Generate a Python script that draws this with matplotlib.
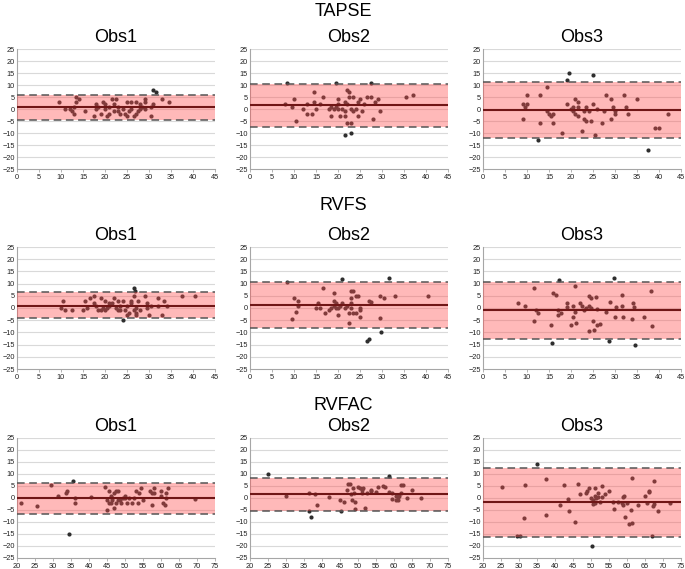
import numpy as np
import matplotlib
matplotlib.use('Agg')
import matplotlib.pyplot as plt

plt.rcParams['font.family'] = ['Liberation Sans', 'DejaVu Sans']

# 行标题 / 列标题
ROW_TITLES = ['TAPSE', 'RVFS', 'RVFAC']
COL_TITLES = ['Obs1', 'Obs2', 'Obs3']
ROW_XLIMS = [(0, 45), (0, 45), (20, 75)]
Y_TICKS = [-25, -20, -15, -10, -5, 0, 5, 10, 15, 20, 25]

# 均值 / 上限 / 下限 (行 x 列)
MEAN_DIFF = [[0.8, 1.5, -0.5], [1.0, 1.2, -0.8], [0.0, 1.5, -1.8]]
UPPER_LOA = [[6.0, 10.3, 11.3], [6.5, 10.8, 10.8], [6.3, 8.3, 12.6]]
LOWER_LOA = [[-4.5, -7.3, -12.0], [-4.3, -8.3, -12.8], [-6.5, -5.3, -16.2]]

# TAPSE
tapse_obs1_x = [9.5, 11, 12, 12.5, 13, 13, 13.5, 13.5, 14, 15.5, 17.5, 18, 18, 18.5, 19, 19.5, 20, 20,
                20.5, 21, 21, 21.5, 22, 22, 22.5, 23, 23, 23.5, 24, 24.5, 25, 25, 25.5, 26, 26, 26.5,
                27, 27, 27.5, 28, 28, 28.5, 29, 29, 29, 30.5, 30.5, 31, 31, 31.5, 33, 34.5]
tapse_obs1_y = [3, 0, 0, -1, -2, 1, 3, 5, 4, -1, -3, 0, 2, 1, -2, 3, 2, 0,
                -3, -2, 1, 4, -1, 2, 4, -1, 1, -2, 0, -2, -3, 3, -1, 3, 0, -3,
                3, -2, -1, 0, 2, 1, 3, 4, 0, -3, 1, 2, 8, 7, 4, 3]
tapse_obs2_x = [8, 8.5, 9.5, 10, 10.5, 12, 13, 13, 14, 14.5, 14.5, 15, 16, 16.5, 18, 18.5, 18.5, 19,
                19.5, 19.5, 20, 20, 20, 20.5, 21, 21.5, 21.5, 21.5, 21.5, 22, 22, 22, 22.5, 22.5, 23,
                23, 23, 23.5, 23.5, 24, 24.5, 24.5, 25, 25.5, 26, 26.5, 27.5, 27.5, 28, 28.5, 29,
                29.5, 35.5, 37]
tapse_obs2_y = [2, 11, 1, 4, -5, 0, 2, -2, -2, 3, 7, 0, 2, 5, 0, 1, -3, 0,
                1, 11, 4, 2, 0, -3, 0, -1, -3, 3, -11, 8, 2, -6, 7, 5, 0,
                -6, -10, -1, 5, 0, -3, 3, 4, -1, 2, 5, 5, 11, -4, 3, 4,
                -1, 5, 6]
tapse_obs3_x = [9, 9, 9.5, 10, 10, 12.5, 13, 13, 14.5, 14.5, 15, 15.5, 16, 16, 18, 19, 19.5, 19,
                20, 20.5, 20.5, 21, 21, 21.5, 21.5, 21.5, 22.5, 23, 23, 23.5, 23.5, 24, 24.5, 25,
                25, 25.5, 26, 27, 27.5, 28, 29, 29, 29.5, 30, 30, 32, 32.5, 33, 35, 37.5, 39, 40, 42]
tapse_obs3_y = [-4, 2, 1, 2, 6, -13, 6, -6, 9, -1, -2, -3, -2, -6, -10, 12, 15, 2,
                0, 1, -1, 4, -2, 3, 1, -3, -9, -1, -4, 1, -5, -1, -5, 2,
                14, -11, 0, -6, -1, 6, 4, -4, 1, -1, -2, 6, 1, -2, 4, -17, -8, -8, -2]

# RVFS
rvfs_obs1_x = [10, 10.5, 11, 12.5, 15, 15.5, 16, 16.5, 17.5, 17.5, 18, 18.5, 19, 19, 19.5, 20, 20,
               20.5, 21, 21, 21.5, 22, 22.5, 23, 23, 23.5, 23.5, 24, 24, 24.5, 25, 25, 25.5, 26, 26,
               26.5, 26.5, 26.5, 26.8, 27, 27, 27, 27.5, 28, 29, 29.5, 29.5, 30, 30.5, 32, 32, 33,
               33.5, 34, 37.5, 40.5]
rvfs_obs1_y = [0, 3, -1, -1, -1, 3, 0, 4, 5, 2, 1, -1, -1, 4, 0, 3, -1,
               0, 2, 1, 2, 4, 0, -1, 3, -1, 1, 3, -5, -1, -3, 1, -2, 3, 2,
               -1, 5, 8, 7, -2, 0, -3, 3, -1, 5, 2, 0, -3, 1, 4, 1, -3,
               3, 1, 5, 5]
rvfs_obs2_x = [8.5, 9.5, 10, 10.5, 11, 11, 15, 15.5, 16, 16.5, 17, 18, 18.5, 19, 19, 19, 19.5, 19.5,
               20, 20, 20.5, 21, 21, 21.5, 22, 22.5, 22.5, 23, 23, 23, 23, 23.5, 23.5, 24, 24, 24.5,
               25, 25, 25, 26.5, 27, 27, 27.5, 29.5, 29.5, 29.8, 30.5, 31.5, 33, 40.5]
rvfs_obs2_y = [10.5, -4.5, 4, -1.5, 1, 3, 0, 2, 0, 8, -2, -1, 0, 6, 3, 1, 0, 2,
               -3, 0, 1, 2, 12, 0, 1, -6, -2, 2, 4, 0, 7, 7, -2, 5, -2, 5,
               -1, -3.5, 0, -13.5, -12.5, 3, 2.5, 5, -4, -10, 4, 12.5, 5, 5]
rvfs_obs3_x = [8, 9.5, 11.5, 11.5, 12, 12.5, 15.5, 15.7, 16, 16.5, 17, 17, 17.2, 17.8, 19, 19.2, 20,
               20.5, 20.5, 21, 21, 21.2, 22, 22.5, 23, 23.5, 24, 24, 24.2, 24.5, 24.5, 25, 25.3,
               25.6, 25.8, 26, 26.5, 28, 28.7, 28.8, 29.8, 30, 30.2, 31.5, 31.7, 31.8, 33.8, 34,
               34.3, 34.5, 36.5, 38.2, 38.5]
rvfs_obs3_y = [2, 1, 8, -5.5, -1, -2, -7, -14.5, 6, 5.5, -3, -1, 11.5, -2, 0.5, 2, -7,
               1, -3.5, 9, -1.5, -6, 2, 1, -1, 0, 1, -9.5, 5, 4, 0, -5.5, -9,
               4.5, -7, -0.5, -6.5, -1.5, -13.5, 2.5, 12.5, -3.5, 0.5, 5.5, 1, -3.5, -4.5, 2,
               0.5, -15, -3.5, 7, -7.5]

# RVFAC
rvfac_obs1_x = [21, 25.5, 29.5, 31.5, 33.5, 34, 34.5, 35.5, 36, 36, 40.5, 44.5, 45, 45, 45.5, 45.5,
                46, 46, 46.5, 46.5, 47, 47, 47.5, 47.5, 48, 48, 48.5, 49, 49.5, 50, 50, 50.5, 51,
                52, 52.5, 53, 53.5, 54, 54.5, 55, 57, 57.5, 57.5, 58, 58, 60, 60, 60.5, 61, 61.5,
                61.5, 62, 69.5]
rvfac_obs1_y = [-2, -3.5, 5.5, 1, 2, 3, -15, 7, 0, -2, 0.5, 4.5, -5, -1, -2, 3,
                1, -2, -1, 0, -4, 2, -2, 3, -1, 3, -1, -2, 0, 0, 1, -2, 0,
                -2, 0, 3, -2, 2, 4, -1, 3, 2, -3, 4, 2, 1, 3, -2, -3, 2,
                0, 4, -0.5]
rvfac_obs2_x = [25, 30, 36.5, 36.5, 37, 38, 38.5, 42, 45, 45.3, 46, 47, 47.2, 47.8, 48, 48.3, 48.5,
                48.8, 49.3, 49.3, 50, 50.5, 51, 51, 51.5, 52, 52.5, 53.5, 53.5, 55, 55.5, 57, 57.5,
                58.5, 58.5, 59.5, 59.5, 60.5, 60.5, 61, 61, 61.5, 62, 62, 62.5, 63.5, 65, 67.5]
rvfac_obs2_y = [10, 1, -5.5, 2, -8, 1.5, -3, 0.5, -1, -5.5, -1.5, 3.5, 6, 6, 1.5, -1, 4,
                2, -4.5, -1.5, 4.5, 4, 2, 3.5, 4, -4, 2, 3.5, 3, 2.5, 4.5, 5, 4.5,
                2.5, 9, 2, -0.5, 1, -1, -1, 0.5, 1, 5.5, 2, 5.5, 0, 3.5, 0]
rvfac_obs3_x = [25.3, 29.5, 30.3, 31.5, 31.8, 35, 37.5, 37.5, 41.5, 42.5, 43.5, 44, 45.5, 46.5, 47,
                48.5, 49, 49.5, 50, 50.2, 50.5, 50.5, 51, 51, 51, 51.5, 52, 52, 52.5, 53, 53, 54,
                55, 56, 56.5, 57.5, 58.5, 58.8, 59, 59.3, 59.5, 60, 60.5, 61, 61.5, 61.5, 63, 65,
                65.5, 66, 66, 67, 67.2, 67.5, 67.5, 68.5, 72]
rvfac_obs3_y = [4.5, -16, -16, -8.5, 5.5, 14, 8, -7, -3, 5.5, -0.5, -5.5, -10, 6, 1.5,
                2, 3, 4, 0, -20, -1, -2.5, 1, -2, 4, 0, 2, 0.5, -1.5, 0.5, 5, 1.5,
                3, -1.5, -4.5, -1.5, -2, 0.5, -3, 1, -8, -2, -11, -5, -10.5, 8.5, -3, 1,
                -2, 3, 2.5, -16, -3.5, 7, -2.5, -5.5, -2]

PANELS = [
    [(tapse_obs1_x, tapse_obs1_y), (tapse_obs2_x, tapse_obs2_y), (tapse_obs3_x, tapse_obs3_y)],
    [(rvfs_obs1_x, rvfs_obs1_y), (rvfs_obs2_x, rvfs_obs2_y), (rvfs_obs3_x, rvfs_obs3_y)],
    [(rvfac_obs1_x, rvfac_obs1_y), (rvfac_obs2_x, rvfac_obs2_y), (rvfac_obs3_x, rvfac_obs3_y)],
]

W, H = 685, 569
# 子图像素位置
COL_LEFT = [17, 250, 483]
AX_W = 198
ROW_TOP = [49, 247, 438]
ROW_BOTTOM = [169, 369, 558]
ROW_TITLE_Y = [12, 205, 405]


def draw_panel(ax, x, y, mean, upper, lower, xlim):
    ax.set_xlim(*xlim)
    ax.set_ylim(-25, 25)
    ax.set_yticks(Y_TICKS)
    ax.set_xticks(np.arange(xlim[0], xlim[1] + 1, 5))
    # 水平网格线
    for t in Y_TICKS[1:]:
        ax.axhline(t, color='#d9d9d9', lw=0.8, zorder=0)
    ax.scatter(x, y, s=9, color='#2e2e2e', zorder=2, linewidths=0)
    # 一致性区间
    ax.axhspan(lower, upper, color='#ff5050', alpha=0.4, lw=0, zorder=3)
    ax.axhline(mean, color='#701616', lw=1.5, zorder=4)
    ax.axhline(upper, color='#555555', lw=1.1, ls=(0, (5, 3)), zorder=4)
    ax.axhline(lower, color='#555555', lw=1.1, ls=(0, (5, 3)), zorder=4)
    for s in ['top', 'right']:
        ax.spines[s].set_visible(False)
    for s in ['left', 'bottom']:
        ax.spines[s].set_color('#a6a6a6')
        ax.spines[s].set_linewidth(0.8)
    ax.tick_params(axis='both', labelsize=5.3, colors='#a6a6a6', labelcolor='#222222',
                   length=2, width=0.6, pad=1.5)
    ax.tick_params(axis='y', length=0)


def main():
    fig = plt.figure(figsize=(W / 100, H / 100), dpi=100)
    for r in range(3):
        for c in range(3):
            left = COL_LEFT[c] / W
            bottom = 1 - ROW_BOTTOM[r] / H
            height = (ROW_BOTTOM[r] - ROW_TOP[r]) / H
            ax = fig.add_axes([left, bottom, AX_W / W, height])
            x, y = PANELS[r][c]
            draw_panel(ax, x, y, MEAN_DIFF[r][c], UPPER_LOA[r][c], LOWER_LOA[r][c], ROW_XLIMS[r])
            ax.set_title(COL_TITLES[c], fontsize=13, pad=5)
        fig.text(343 / W, 1 - ROW_TITLE_Y[r] / H, ROW_TITLES[r], fontsize=13,
                 ha='center', va='center')
    fig.savefig('out.png', dpi=100)


if __name__ == "__main__":
    main()
